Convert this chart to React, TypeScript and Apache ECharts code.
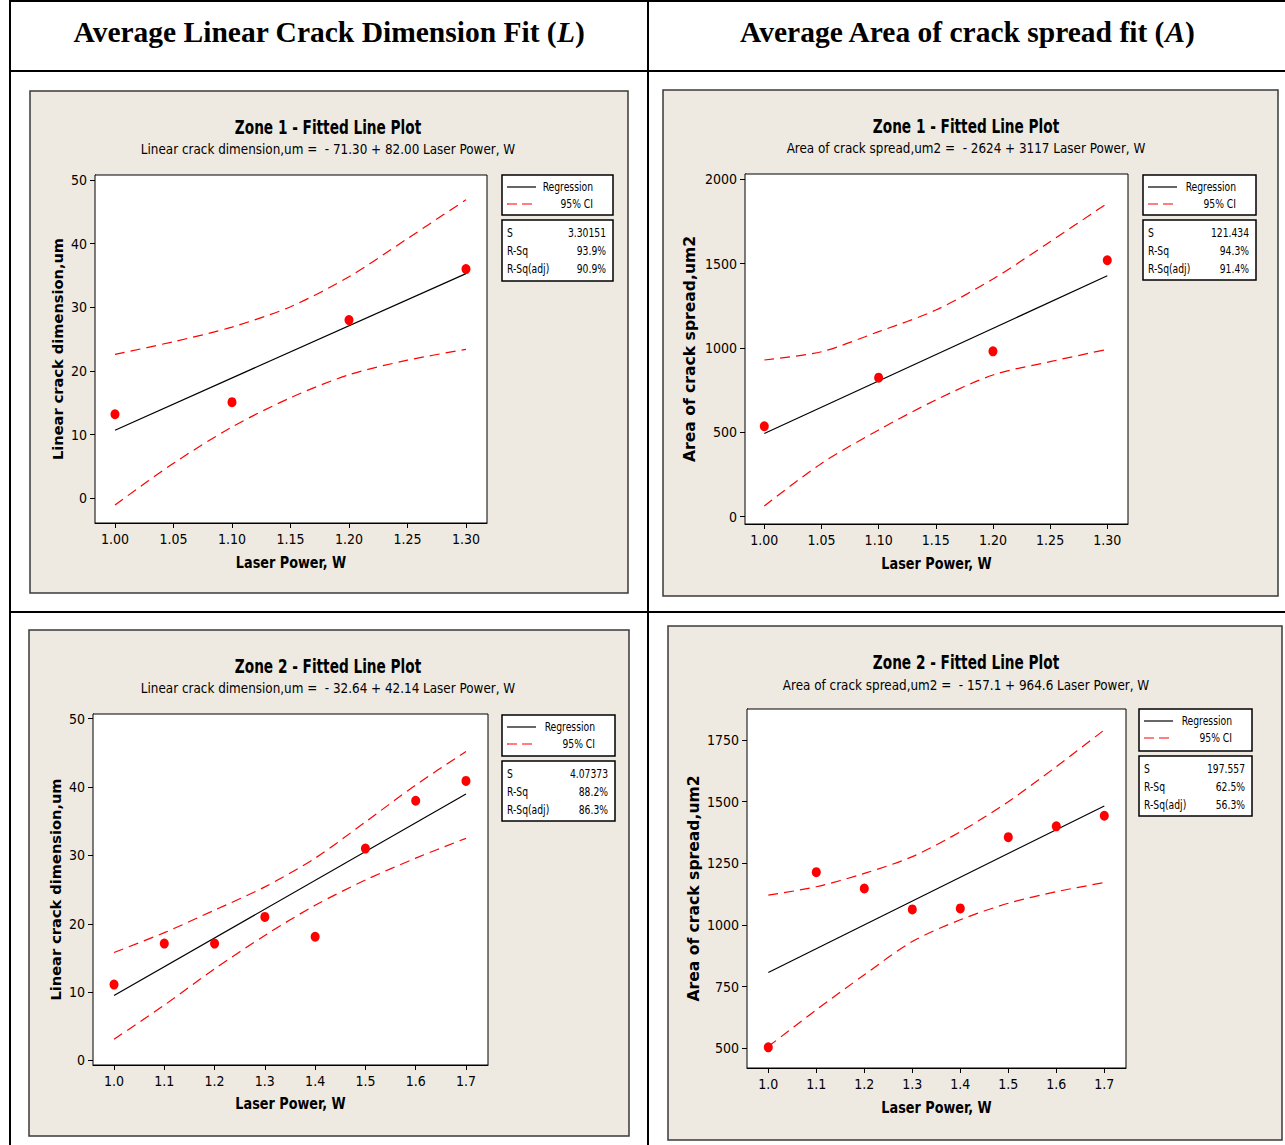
import React, { useEffect, useRef } from "react";
import * as echarts from "echarts";

// ---------- DATA ----------
const zone1Power = [1.0, 1.1, 1.2, 1.3];
const zone1CiPower = [1.0, 1.05, 1.1, 1.15, 1.2, 1.25, 1.3];
const zone1FitPower = [1.0, 1.3];

const z1LinearObs = [13.2, 15.1, 28.0, 36.0];
const z1LinearFit = [10.7, 35.3];
const z1LinearUpper = [22.6, 24.6, 26.9, 30.1, 34.8, 40.8, 46.9];
const z1LinearLower = [-1.05, 5.5, 11.2, 15.8, 19.4, 21.7, 23.4];

const z1AreaObs = [536, 824, 980, 1520];
const z1AreaFit = [493, 1428];
const z1AreaUpper = [929, 978, 1097, 1225, 1409, 1630, 1858];
const z1AreaLower = [63, 316, 514, 692, 840, 919, 992];

const zone2Power = [1.0, 1.1, 1.2, 1.3, 1.4, 1.5, 1.6, 1.7];
const zone2FitPower = [1.0, 1.7];

const z2LinearObs = [11.1, 17.1, 17.1, 21.0, 18.1, 31.0, 38.0, 40.9];
const z2LinearFit = [9.5, 39.0];
const z2LinearUpper = [15.8, 18.7, 22.0, 25.4, 29.6, 34.9, 40.3, 45.2];
const z2LinearLower = [3.1, 8.1, 13.4, 18.3, 22.7, 26.4, 29.6, 32.5];

const z2AreaObs = [504, 1214, 1148, 1063, 1067, 1356, 1400, 1443];
const z2AreaFit = [807.5, 1482.7];
const z2AreaUpper = [1121, 1155, 1209, 1277, 1378, 1500, 1642, 1791];
const z2AreaLower = [507, 656, 798, 933, 1021, 1088, 1135, 1172];

const z1xTicks = [1.0, 1.05, 1.1, 1.15, 1.2, 1.25, 1.3];
const z2xTicks = [1.0, 1.1, 1.2, 1.3, 1.4, 1.5, 1.6, 1.7];
const linearYTicks = [0, 10, 20, 30, 40, 50];
const z1AreaYTicks = [0, 500, 1000, 1500, 2000];
const z2AreaYTicks = [500, 750, 1000, 1250, 1500, 1750];

const statsLabels = ["S", "R-Sq", "R-Sq(adj)"];
const z1LinearStats = ["3.30151", "93.9%", "90.9%"];
const z1AreaStats = ["121.434", "94.3%", "91.4%"];
const z2LinearStats = ["4.07373", "88.2%", "86.3%"];
const z2AreaStats = ["197.557", "62.5%", "56.3%"];

const headerLeft = ["Average Linear Crack Dimension Fit (", "L", ")"];
const headerRight = ["Average Area of crack spread fit (", "A", ")"];

// ---------- STYLE ----------
const COND = "'DejaVu Sans Condensed', 'Liberation Sans Narrow', 'Roboto Condensed', Roboto, sans-serif";
const WIDE = "'DejaVu Sans', Verdana, sans-serif";
const SERIF = "'Liberation Serif', 'Times New Roman', serif";
const PANEL_BG = "#EEEAE1";
const RED = "#FF0000";

const zip = (xs: number[], ys: number[]) => xs.map((x, i) => [x, ys[i]]);

type Panel = {
  grid: { left: number; top: number; width: number; height: number };
  xMin: number; xMax: number; xTicks: number[]; xDec: number;
  yMin: number; yMax: number; yTicks: number[];
  obsX: number[]; obs: number[]; ciX: number[]; upper: number[]; lower: number[]; fitX: number[]; fit: number[];
  rect: { x: number; y: number; w: number; h: number };
  title: string; subtitle: string; cx: number; titleY: number; subY: number;
  yName: string; yNameX: number; yNameSize: number; xNameY: number;
  leg: { x: number; y: number; w: number; h: number };
  stat: { x: number; y: number; w: number; h: number };
  stats: string[];
};

const panels: Panel[] = [
  {
    grid: { left: 95, top: 175, width: 392, height: 348 },
    xMin: 0.98291, xMax: 1.31795, xTicks: z1xTicks, xDec: 2,
    yMin: -3.88, yMax: 50.785, yTicks: linearYTicks,
    obsX: zone1Power, obs: z1LinearObs, ciX: zone1CiPower, upper: z1LinearUpper, lower: z1LinearLower, fitX: zone1FitPower, fit: z1LinearFit,
    rect: { x: 30, y: 91, w: 598, h: 502 },
    title: "Zone 1 - Fitted Line Plot",
    subtitle: "Linear crack dimension,um =  - 71.30 + 82.00 Laser Power, W",
    cx: 328, titleY: 127, subY: 149,
    yName: "Linear crack dimension,um", yNameX: 57, yNameSize: 14.6, xNameY: 563,
    leg: { x: 502, y: 175, w: 111, h: 40 },
    stat: { x: 502, y: 220, w: 111, h: 61 },
    stats: z1LinearStats,
  },
  {
    grid: { left: 745, top: 174, width: 383, height: 350 },
    xMin: 0.98312, xMax: 1.31811, xTicks: z1xTicks, xDec: 2,
    yMin: -43.3, yMax: 2031.4, yTicks: z1AreaYTicks,
    obsX: zone1Power, obs: z1AreaObs, ciX: zone1CiPower, upper: z1AreaUpper, lower: z1AreaLower, fitX: zone1FitPower, fit: z1AreaFit,
    rect: { x: 663, y: 90, w: 615, h: 506 },
    title: "Zone 1 - Fitted Line Plot",
    subtitle: "Area of crack spread,um2 =  - 2624 + 3117 Laser Power, W",
    cx: 966, titleY: 126, subY: 148,
    yName: "Area of crack spread,um2", yNameX: 690, yNameSize: 15.6, xNameY: 564,
    leg: { x: 1143, y: 175, w: 113, h: 40 },
    stat: { x: 1143, y: 220, w: 113, h: 60 },
    stats: z1AreaStats,
  },
  {
    grid: { left: 93, top: 714, width: 395, height: 351 },
    xMin: 0.9582, xMax: 1.7438, xTicks: z2xTicks, xDec: 1,
    yMin: -0.66, yMax: 50.69, yTicks: linearYTicks,
    obsX: zone2Power, obs: z2LinearObs, ciX: zone2Power, upper: z2LinearUpper, lower: z2LinearLower, fitX: zone2FitPower, fit: z2LinearFit,
    rect: { x: 29, y: 630, w: 600, h: 506 },
    title: "Zone 2 - Fitted Line Plot",
    subtitle: "Linear crack dimension,um =  - 32.64 + 42.14 Laser Power, W",
    cx: 328, titleY: 666, subY: 688,
    yName: "Linear crack dimension,um", yNameX: 55, yNameSize: 14.6, xNameY: 1104,
    leg: { x: 502, y: 715, w: 113, h: 41 },
    stat: { x: 502, y: 761, w: 113, h: 60 },
    stats: z2LinearStats,
  },
  {
    grid: { left: 747, top: 709, width: 379, height: 359 },
    xMin: 0.95563, xMax: 1.74521, xTicks: z2xTicks, xDec: 1,
    yMin: 420.1, yMax: 1875.7, yTicks: z2AreaYTicks,
    obsX: zone2Power, obs: z2AreaObs, ciX: zone2Power, upper: z2AreaUpper, lower: z2AreaLower, fitX: zone2FitPower, fit: z2AreaFit,
    rect: { x: 668, y: 626, w: 614, h: 514 },
    title: "Zone 2 - Fitted Line Plot",
    subtitle: "Area of crack spread,um2 =  - 157.1 + 964.6 Laser Power, W",
    cx: 966, titleY: 662, subY: 685,
    yName: "Area of crack spread,um2", yNameX: 694, yNameSize: 15.6, xNameY: 1108,
    leg: { x: 1139, y: 709, w: 113, h: 42 },
    stat: { x: 1139, y: 756, w: 113, h: 60 },
    stats: z2AreaStats,
  },
];

function buildOption() {
  const grid: any[] = [];
  const xAxis: any[] = [];
  const yAxis: any[] = [];
  const series: any[] = [];
  const graphic: any[] = [];

  // table lines
  const line = (x1: number, y1: number, x2: number, y2: number) => ({
    type: "line", shape: { x1, y1, x2, y2 }, style: { stroke: "#000", lineWidth: 2 }, z: 5,
  });
  graphic.push(line(10, 1, 1285, 1));
  graphic.push(line(10, 0, 10, 1145));
  graphic.push(line(648, 0, 648, 1145));
  graphic.push(line(10, 71, 1285, 71));
  graphic.push(line(10, 612, 1285, 612));

  const header = (parts: string[], x: number) => ({
    type: "text", x, y: 32, z: 5,
    style: {
      text: `{a|${parts[0]}}{b|${parts[1]}}{a|${parts[2]}}`,
      align: "center", verticalAlign: "middle",
      rich: {
        a: { fontFamily: SERIF, fontSize: 29.5, fontWeight: "bold", fill: "#000" },
        b: { fontFamily: SERIF, fontSize: 29.5, fontWeight: "bold", fontStyle: "italic", fill: "#000" },
      },
    },
  });
  graphic.push(header(headerLeft, 329));
  graphic.push(header(headerRight, 967));

  const smallText = (text: string, x: number, y: number, align: string) => ({
    type: "text", x, y, z: 6, scaleX: 0.82,
    style: { text, fontFamily: COND, fontSize: 12.5, fill: "#000", align, verticalAlign: "middle" },
  });

  panels.forEach((p, i) => {
    grid.push({ ...p.grid, show: true, backgroundColor: "#fff", borderColor: "#000", borderWidth: 1, z: 2 });
    xAxis.push({
      type: "value", gridIndex: i, min: p.xMin, max: p.xMax,
      splitLine: { show: false },
      axisLine: { show: true, onZero: false, lineStyle: { color: "#000", width: 1 } },
      axisTick: { show: true, customValues: p.xTicks, length: 5, lineStyle: { color: "#000" } },
      axisLabel: {
        customValues: p.xTicks, margin: 9, fontSize: 14, fontFamily: COND, color: "#000",
        formatter: (v: number) => v.toFixed(p.xDec),
      },
    });
    yAxis.push({
      type: "value", gridIndex: i, min: p.yMin, max: p.yMax,
      splitLine: { show: false },
      axisLine: { show: true, onZero: false, lineStyle: { color: "#000", width: 1 } },
      axisTick: { show: true, customValues: p.yTicks, length: 5, lineStyle: { color: "#000" } },
      axisLabel: {
        customValues: p.yTicks, margin: 8, fontSize: 14, fontFamily: COND, color: "#000",
        formatter: (v: number) => String(v),
      },
    });
    const ciStyle = { color: RED, width: 1.2, type: [10, 6] };
    series.push({
      type: "line", xAxisIndex: i, yAxisIndex: i, data: zip(p.ciX, p.upper), symbol: "none",
      smooth: 0.3, lineStyle: ciStyle, silent: true, z: 3,
    });
    series.push({
      type: "line", xAxisIndex: i, yAxisIndex: i, data: zip(p.ciX, p.lower), symbol: "none",
      smooth: 0.3, lineStyle: ciStyle, silent: true, z: 3,
    });
    series.push({
      type: "line", xAxisIndex: i, yAxisIndex: i, data: zip(p.fitX, p.fit), symbol: "none",
      lineStyle: { color: "#000", width: 1.2 }, silent: true, z: 3,
    });
    series.push({
      type: "scatter", xAxisIndex: i, yAxisIndex: i, data: zip(p.obsX, p.obs),
      symbol: "circle", symbolSize: [9, 10], itemStyle: { color: RED, opacity: 1 }, silent: true, z: 4,
    });

    // panel background
    graphic.push({
      type: "rect", shape: { x: p.rect.x, y: p.rect.y, width: p.rect.w, height: p.rect.h }, z: -10,
      style: { fill: PANEL_BG, stroke: "#3a3a3a", lineWidth: 1.5 },
    });
    graphic.push({
      type: "text", x: p.cx, y: p.titleY, z: 5, scaleX: 0.8,
      style: { text: p.title, fontFamily: COND, fontSize: 19, fontWeight: "bold", fill: "#000", align: "center", verticalAlign: "middle" },
    });
    graphic.push({
      type: "text", x: p.cx, y: p.subY, z: 5, scaleX: 0.92,
      style: { text: p.subtitle, fontFamily: COND, fontSize: 14.5, fill: "#000", align: "center", verticalAlign: "middle" },
    });
    graphic.push({
      type: "text", x: p.yNameX, y: p.grid.top + p.grid.height / 2, rotation: Math.PI / 2, z: 5,
      style: { text: p.yName, fontFamily: WIDE, fontSize: p.yNameSize, fontWeight: "bold", fill: "#000", align: "center", verticalAlign: "middle" },
    });
    graphic.push({
      type: "text", x: p.grid.left + p.grid.width / 2, y: p.xNameY, z: 5, scaleX: 0.92,
      style: { text: "Laser Power, W", fontFamily: COND, fontSize: 15.5, fontWeight: "bold", fill: "#000", align: "center", verticalAlign: "middle" },
    });

    // legend box
    const L = p.leg;
    graphic.push({
      type: "rect", shape: { x: L.x, y: L.y, width: L.w, height: L.h }, z: 5,
      style: { fill: "#fff", stroke: "#000", lineWidth: 1.5 },
    });
    const r1 = L.y + 12, r2 = L.y + 29;
    graphic.push({ type: "line", shape: { x1: L.x + 5, y1: r1, x2: L.x + 34, y2: r1 }, z: 6, style: { stroke: "#000", lineWidth: 1.2 } });
    graphic.push({ type: "line", shape: { x1: L.x + 5, y1: r2, x2: L.x + 34, y2: r2 }, z: 6, style: { stroke: RED, lineWidth: 1.2, lineDash: [10, 5] } });
    graphic.push(smallText("Regression", L.x + L.w - 20, r1, "right"));
    graphic.push(smallText("95% CI", L.x + L.w - 20, r2, "right"));

    // stats box
    const S = p.stat;
    graphic.push({
      type: "rect", shape: { x: S.x, y: S.y, width: S.w, height: S.h }, z: 5,
      style: { fill: "#fff", stroke: "#000", lineWidth: 1.5 },
    });
    statsLabels.forEach((lab, k) => {
      const yy = S.y + 13 + k * 18;
      graphic.push(smallText(lab, S.x + 5, yy, "left"));
      graphic.push(smallText(p.stats[k], S.x + S.w - 7, yy, "right"));
    });
  });

  return { animation: false, backgroundColor: "#fff", grid, xAxis, yAxis, series, graphic };
}

export default function App() {
  const ref = useRef<HTMLDivElement>(null);
  useEffect(() => {
    const chart = echarts.init(ref.current!, null, { renderer: "svg" });
    chart.setOption(buildOption() as any);
    return () => chart.dispose();
  }, []);
  return (
    <div
      ref={ref}
      style={{ position: "absolute", left: 0, top: 0, width: 1285, height: 1145, background: "#fff" }}
    />
  );
}
